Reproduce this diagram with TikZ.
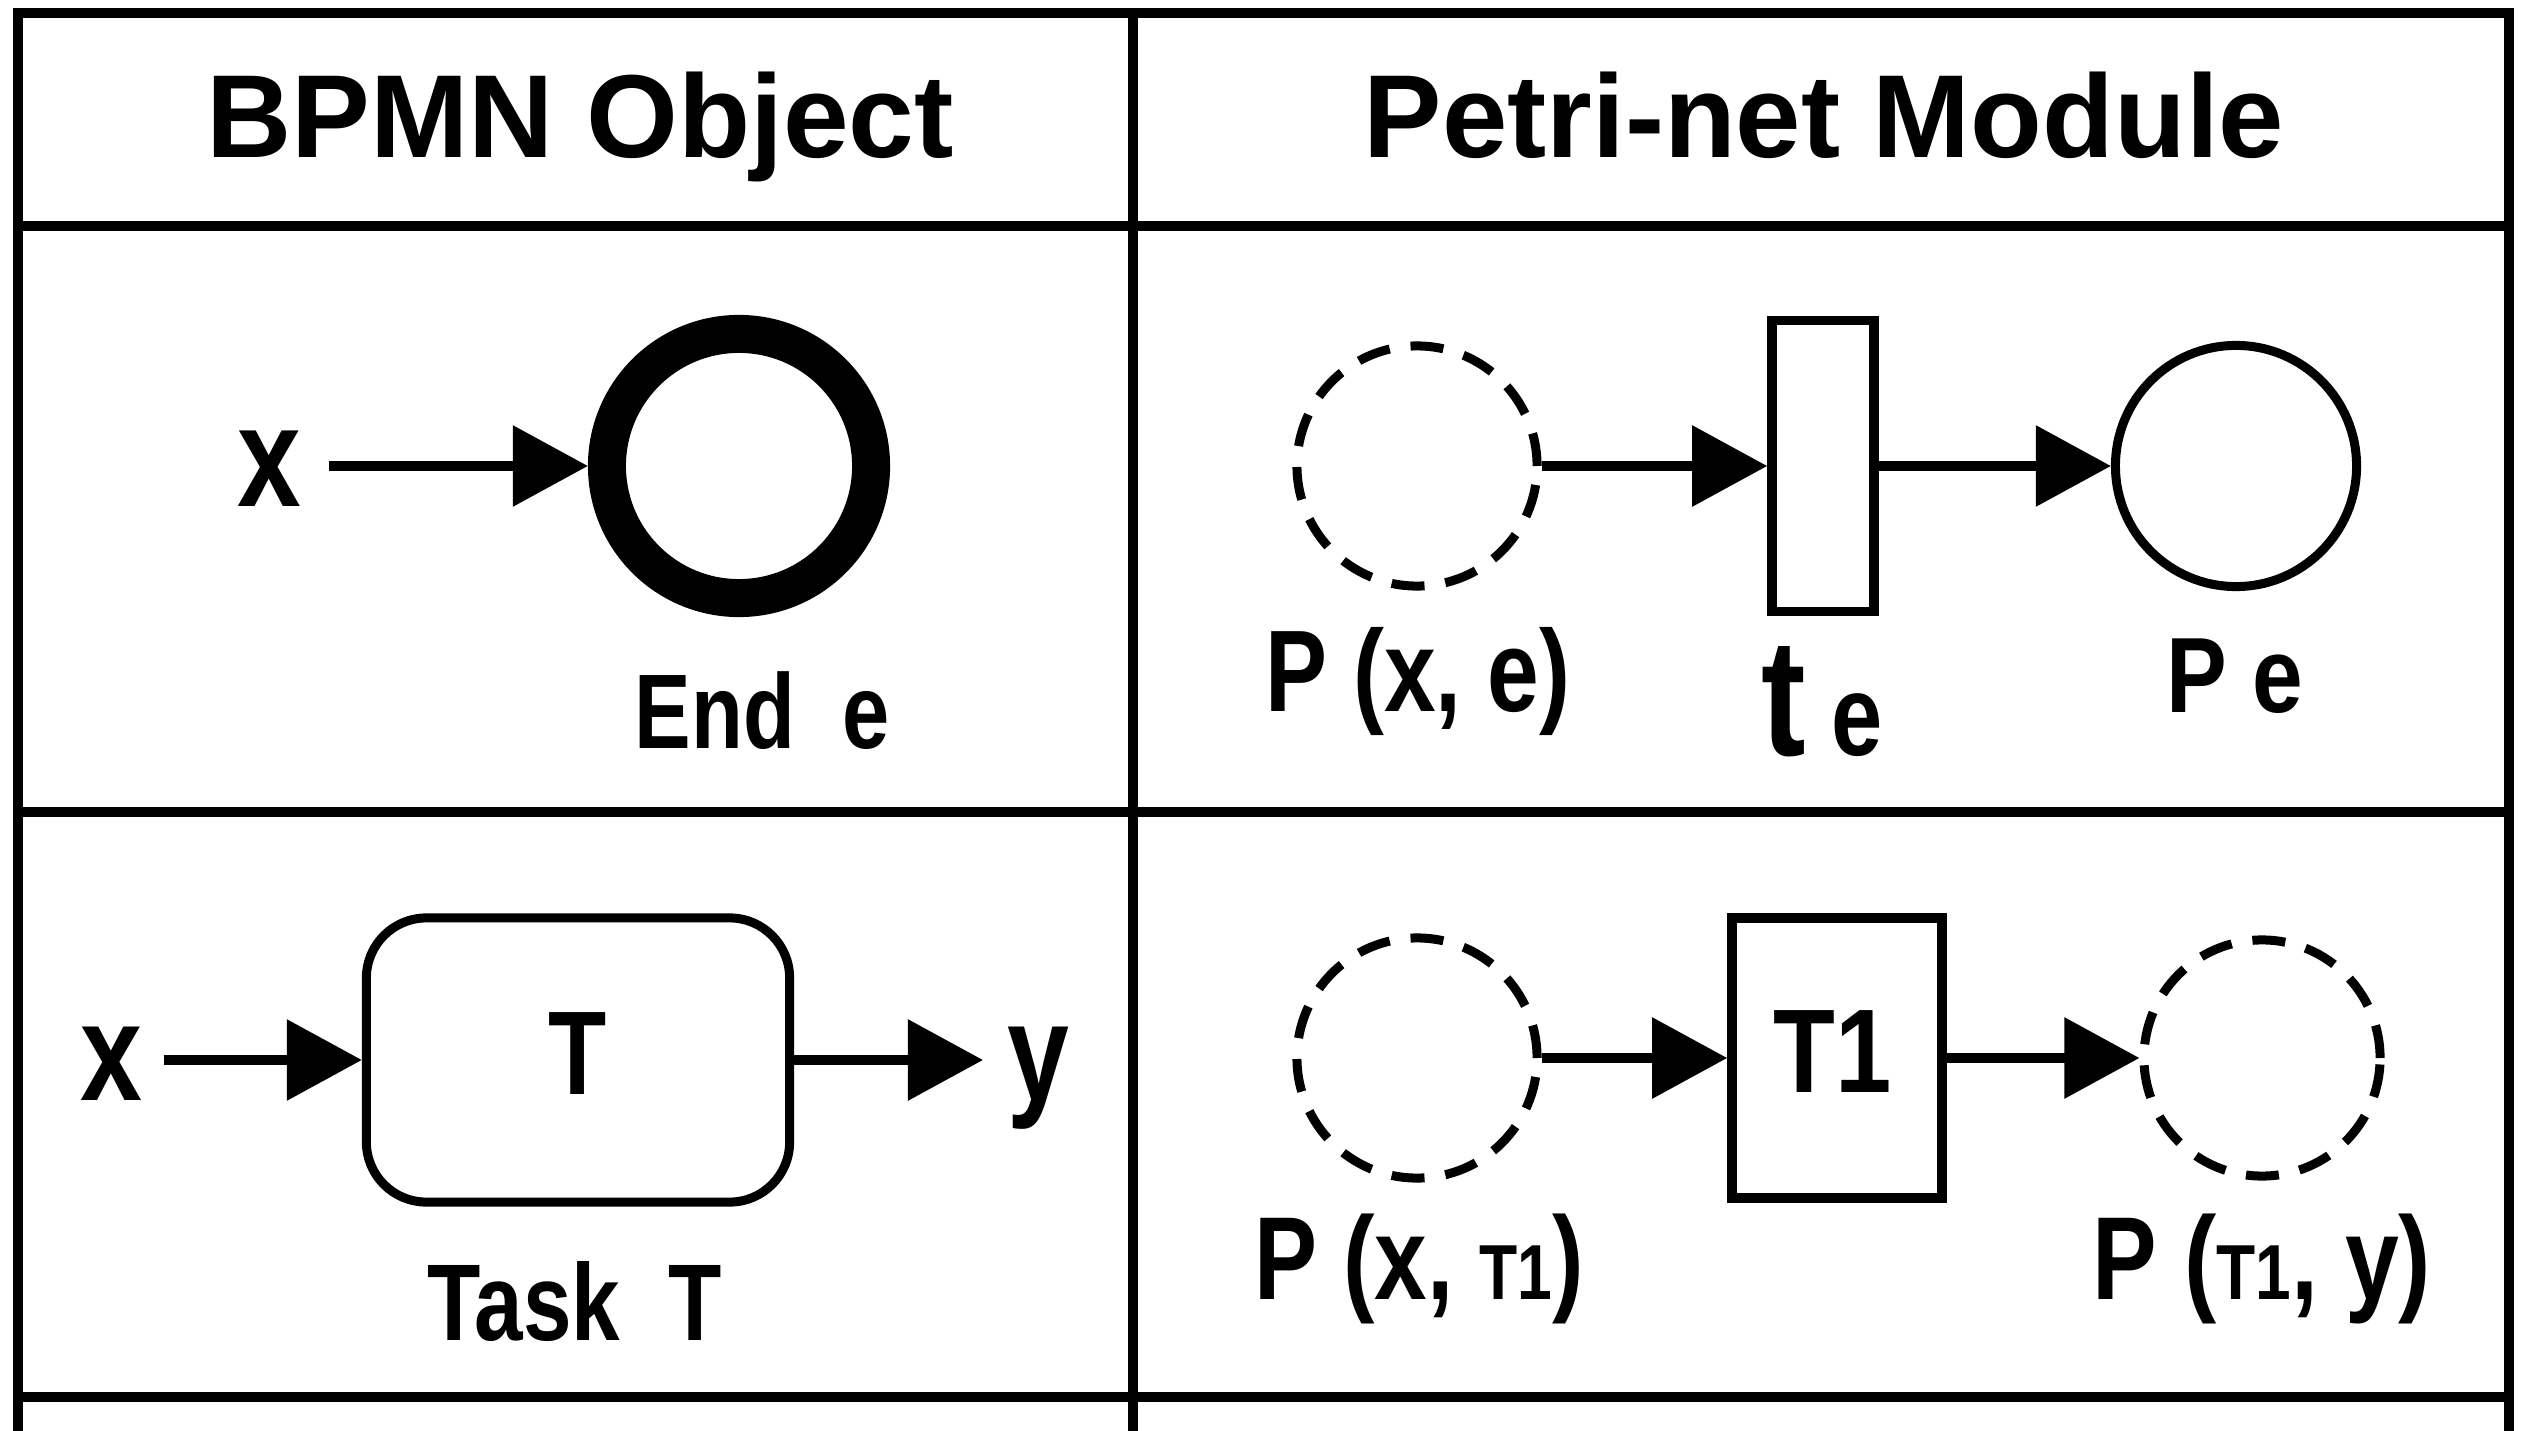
\documentclass[tikz,border=0pt]{standalone}
\usepackage{fontspec}
\setmainfont{Liberation Sans}
\usepackage{graphicx}
\usetikzlibrary{arrows.meta}
\newcommand\fsz[1]{\fontsize{#1cm}{#1cm}\selectfont}
\newcommand\lbl[3]{\scalebox{#2}[1]{\bfseries\fsz{#1}#3}}
\begin{document}
\begin{tikzpicture}[x=0.01cm,y=-0.01cm,
  grid/.style={line width=0.1cm},
  conn/.style={line width=0.095cm,-{Triangle[length=0.75cm,width=0.79cm]}},
  txt/.style={inner sep=0pt,anchor=base},
  place/.style={circle,draw,line width=0.09cm,inner sep=0pt},
  dplace/.style={place,dash pattern=on 0.33cm off 0.21cm},
  trans/.style={rectangle,draw,line width=0.095cm,inner sep=0pt},
  taskbox/.style={rectangle,draw,rounded corners=0.6cm,line width=0.09cm,inner sep=0pt},
]
\useasboundingbox (0,0) rectangle (2525,1431);
\fill[white] (0,0) rectangle (2525,1431);
% table grid
\draw[grid] (18,1431) -- (18,13) -- (2509,13) -- (2509,1431);
\draw[grid] (1133,13) -- (1133,1431);
\draw[grid] (18,226) -- (2509,226);
\draw[grid] (18,812) -- (2509,812);
\draw[grid] (18,1397) -- (2509,1397);
% headers
\node[txt] (h1) at (580,158) {\lbl{1.18}{1}{BPMN Object}};
\node[txt] (h2) at (1824,158) {\lbl{1.18}{0.995}{Petri-net Module}};
% row 1 left
\node[txt] (x1) at (269,507) {\lbl{1.43}{0.8}{x}};
\node[place,line width=0.38cm,minimum size=2.64cm] (endev) at (739,466) {};
\coordinate (x1s) at (329,466);
\draw[conn] (x1s) -- (endev.west);
\node[txt] (endl) at (762,748) {\lbl{1.06}{0.8}{End\ \ e}};
% row 1 right
\node[dplace,minimum size=2.4cm] (pxe) at (1417,466) {};
\node[trans,minimum width=1.02cm,minimum height=2.91cm] (te) at (1823,466) {};
\node[place,minimum size=2.41cm] (pe) at (2236,466) {};
\draw[conn] (pxe.east) -- (te.west);
\draw[conn] (te.east) -- (pe.west);
\node[txt] (pxel) at (1418,711) {\lbl{1.16}{0.8}{P (x, e)}};
\node[txt] (tel) at (1822,755) {\lbl{1.67}{0.8}{t{\fsz{1.15}\ e}}};
\node[txt] (pel) at (2235,712) {\lbl{1.07}{0.85}{P e}};
% row 2 left
\node[txt] (x2) at (111,1100) {\lbl{1.39}{0.8}{x}};
\node[taskbox,minimum width=4.23cm,minimum height=2.84cm] (task) at (578,1060) {};
\node[txt] (tT) at (578,1094) {\lbl{1.19}{0.8}{T}};
\coordinate (x2s) at (164,1060);
\coordinate (y2e) at (983,1060);
\draw[conn] (x2s) -- (task.west);
\draw[conn] (task.east) -- (y2e);
\node[txt] (y2) at (1038,1100) {\lbl{1.39}{0.8}{y}};
\node[txt] (taskl) at (575,1340) {\lbl{1.09}{0.8}{Task\ \ T}};
% row 2 right
\node[dplace,minimum size=2.4cm] (pxt) at (1417,1058) {};
\node[trans,minimum width=2.10cm,minimum height=2.80cm] (t1) at (1837,1058) {};
\node[txt] (t1l) at (1833,1092) {\lbl{1.19}{0.85}{T1}};
\node[dplace,minimum size=2.36cm] (pty) at (2262,1058) {};
\draw[conn] (pxt.east) -- (t1.west);
\draw[conn] (t1.east) -- (pty.west);
\node[txt] (pxtl) at (1419,1299) {\lbl{1.18}{0.8}{P (x, {\fsz{0.78}T1})}};
\node[txt] (ptyl) at (2262,1299) {\lbl{1.18}{0.82}{P ({\fsz{0.78}T1}, y)}};
\end{tikzpicture}
\end{document}
